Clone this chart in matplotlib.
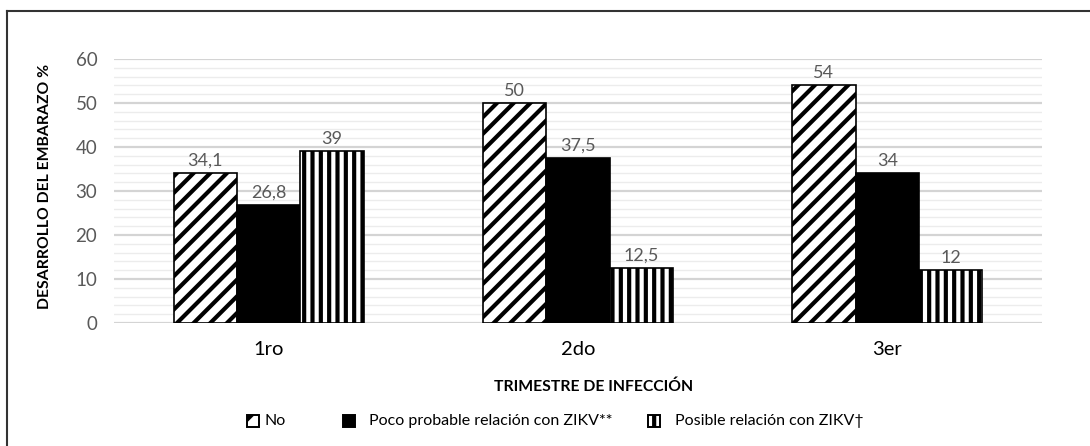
import numpy as np
import matplotlib
matplotlib.use("Agg")
import matplotlib.pyplot as plt
from matplotlib.patches import Rectangle
from matplotlib.lines import Line2D

plt.rcParams['font.family'] = ['Lato', 'DejaVu Sans']
plt.rcParams['hatch.linewidth'] = 3.0

# datos por trimestre
trimestres = ['1ro', '2do', '3er']
series = ['No', 'Poco probable relación con ZIKV**', 'Posible relación con ZIKV†']
no_rel = [34.1, 50, 54]
poco_prob = [26.8, 37.5, 34]
posible = [39, 12.5, 12]
yticks = [0, 10, 20, 30, 40, 50, 60]

valores = [no_rel, poco_prob, posible]
tramas = ['//', '', '||']
rellenos = ['white', 'black', 'white']

fig = plt.figure(figsize=(10.9, 4.46), dpi=100)
ax = fig.add_axes([114/1090, 1-323/446, 928/1090, 264/446])

x = np.arange(len(trimestres))
w = 0.205
gris = '#595959'

def etiqueta(v):
    s = ('%g' % v).replace('.', ',')
    return s

for i, vals in enumerate(valores):
    pos = x + (i - 1) * w
    bars = ax.bar(pos, vals, w, color=rellenos[i], edgecolor='black',
                  hatch=tramas[i], linewidth=1.2, zorder=3)
    for b, v in zip(bars, vals):
        ax.annotate(etiqueta(v), (b.get_x() + b.get_width()/2, v),
                    xytext=(0, 3), textcoords='offset points',
                    ha='center', va='bottom', fontsize=13, color=gris)

ax.set_xlim(-0.5, 2.5)
ax.set_ylim(0, 60)
ax.set_yticks(yticks)
ax.set_yticks(np.arange(0, 61, 2), minor=True)
ax.set_xticks(x)
ax.set_xticklabels(trimestres, fontsize=14.5, color='black')
ax.tick_params(axis='y', length=0, labelsize=13.5, labelcolor=gris, pad=12)
ax.tick_params(axis='y', which='minor', length=0)
ax.tick_params(axis='x', length=0, pad=13)
ax.grid(axis='y', which='major', color='#d4d4d4', lw=1.6, zorder=0)
ax.grid(axis='y', which='minor', color='#ececec', lw=1.0, zorder=0)
for s in ax.spines.values():
    s.set_visible(False)

fig.text(45/1090, 1-186/446, 'DESARROLLO DEL EMBARAZO %', rotation=90,
         ha='center', va='center', fontsize=11.3, fontweight='bold')
fig.text(594/1090, 1-387/446, 'TRIMESTRE DE INFECCIÓN',
         ha='center', va='center', fontsize=11.3, fontweight='bold')

# leyenda manual
ley_x = [247, 343, 648]
txt_x = [264, 369, 675]
for i in range(3):
    r = Rectangle((ley_x[i]/1090, 1-427/446), 12/1090, 12/446,
                  transform=fig.transFigure, facecolor=rellenos[i],
                  edgecolor='black', hatch=tramas[i][:1] if i == 0 else tramas[i],
                  lw=1.4)
    fig.add_artist(r)
    fig.text(txt_x[i]/1090, 1-421/446, series[i], ha='left', va='center',
             fontsize=11.5)

# marco
fig.add_artist(Line2D([7/1090, 7/1090], [0, 1-11/446], transform=fig.transFigure,
                      color='#333333', lw=1.5))
fig.add_artist(Line2D([7/1090, 1], [1-11/446, 1-11/446], transform=fig.transFigure,
                      color='#333333', lw=1.5))

fig.savefig('out.png', dpi=100)
